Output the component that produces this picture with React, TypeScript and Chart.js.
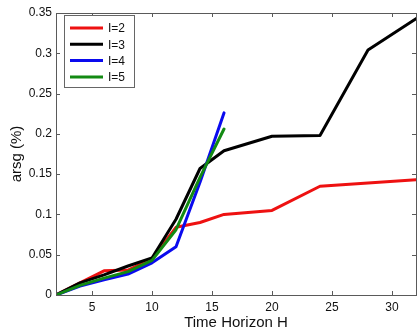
import React, { useEffect, useRef } from "react";
import { Chart, registerables } from "chart.js";

Chart.register(...registerables);

const xLong = [2, 4, 6, 8, 10, 12, 14, 16, 20, 24, 28, 32];
const xShort = [2, 4, 6, 8, 10, 12, 14, 16];
const seriesI2 = [0, 0.015, 0.03, 0.031, 0.045, 0.084, 0.09, 0.1, 0.105, 0.135, 0.139, 0.143];
const seriesI3 = [0, 0.015, 0.025, 0.036, 0.046, 0.094, 0.157, 0.179, 0.197, 0.198, 0.304, 0.343];
const seriesI4 = [0, 0.011, 0.019, 0.026, 0.04, 0.06, 0.14, 0.226];
const seriesI5 = [0, 0.012, 0.021, 0.029, 0.043, 0.081, 0.146, 0.206];
const seriesLabels = ["I=2", "I=3", "I=4", "I=5"];
const xTicks = [5, 10, 15, 20, 25, 30];
const yTicks = [0, 0.05, 0.1, 0.15, 0.2, 0.25, 0.3, 0.35];
const xTitle = "Time Horizon H";
const yTitle = "arsg (%)";

const FONT = '"Liberation Sans", Arial, Helvetica, sans-serif';
const AXIS_COLOR = "#5a5a5a";

const toPts = (xs: number[], ys: number[]) => ys.map((y, i) => ({ x: xs[i], y }));

const boxPlugin = {
  id: "matlabBox",
  afterDatasetsDraw(chart: any) {
    const { ctx, chartArea: a, scales } = chart;
    const xs = scales.x;
    const ys = scales.y;
    ctx.save();
    ctx.strokeStyle = AXIS_COLOR;
    ctx.lineWidth = 1;
    ctx.strokeRect(Math.round(a.left) + 0.5, Math.round(a.top) + 0.5, Math.round(a.right - a.left), Math.round(a.bottom - a.top));
    const tl = 4;
    ctx.beginPath();
    xTicks.forEach((v) => {
      const px = Math.round(xs.getPixelForValue(v)) + 0.5;
      ctx.moveTo(px, a.bottom);
      ctx.lineTo(px, a.bottom - tl);
      ctx.moveTo(px, a.top);
      ctx.lineTo(px, a.top + tl);
    });
    yTicks.forEach((v) => {
      const py = Math.round(ys.getPixelForValue(v)) + 0.5;
      ctx.moveTo(a.left, py);
      ctx.lineTo(a.left + tl, py);
      ctx.moveTo(a.right, py);
      ctx.lineTo(a.right - tl, py);
    });
    ctx.stroke();

    // legend
    const lx = a.left + 8;
    const ly = a.top + 2;
    const lw = 70;
    const lh = 72;
    ctx.fillStyle = "#ffffff";
    ctx.fillRect(lx, ly, lw, lh);
    ctx.strokeStyle = "#666";
    ctx.strokeRect(lx + 0.5, ly + 0.5, lw, lh);
    ctx.font = `12px ${FONT}`;
    ctx.textBaseline = "middle";
    ctx.textAlign = "left";
    const ds = chart.data.datasets;
    ds.forEach((d: any, i: number) => {
      const y = ly + 13 + i * 16.3;
      ctx.strokeStyle = d.borderColor;
      ctx.lineWidth = 3;
      ctx.beginPath();
      ctx.moveTo(lx + 6, y);
      ctx.lineTo(lx + 39, y);
      ctx.stroke();
      ctx.fillStyle = "#111";
      ctx.fillText(d.label, lx + 44, y + 1);
    });
    ctx.restore();
  },
};

export default function App() {
  const ref = useRef<HTMLCanvasElement | null>(null);
  useEffect(() => {
    if (!ref.current) return;
    const colors = ["#ee1111", "#000000", "#0a0aee", "#138a13"];
    const chart = new Chart(ref.current, {
      type: "line",
      data: {
        datasets: [
          { label: seriesLabels[0], data: toPts(xLong, seriesI2), borderColor: colors[0], order: 4 },
          { label: seriesLabels[1], data: toPts(xLong, seriesI3), borderColor: colors[1], order: 3 },
          { label: seriesLabels[2], data: toPts(xShort, seriesI4), borderColor: colors[2], order: 2 },
          { label: seriesLabels[3], data: toPts(xShort, seriesI5), borderColor: colors[3], order: 1 },
        ].map((d) => ({
          ...d,
          borderWidth: 3,
          pointRadius: 0,
          tension: 0,
          fill: false,
          borderJoinStyle: "round" as const,
          borderCapStyle: "round" as const,
        })),
      },
      options: {
        responsive: false,
        animation: false,
        events: [],
        layout: { padding: { top: 13, right: 3, left: 0, bottom: 0 } },
        plugins: { legend: { display: false }, tooltip: { enabled: false } },
        scales: {
          x: {
            type: "linear",
            min: 2,
            max: 32,
            grid: { display: false, drawTicks: false },
            border: { display: false },
            afterBuildTicks: (s: any) => {
              s.ticks = xTicks.map((v) => ({ value: v }));
            },
            afterFit: (s: any) => {
              s.height = 34;
            },
            ticks: {
              padding: 5,
              color: "#111",
              font: { family: FONT, size: 12 },
              callback: (v: any) => String(v),
            },
            title: {
              display: true,
              text: xTitle,
              color: "#111",
              font: { family: FONT, size: 15, lineHeight: 0.8 },
              padding: { top: 0, bottom: 0 },
            },
          },
          y: {
            type: "linear",
            min: 0,
            max: 0.35,
            grid: { display: false, drawTicks: false },
            border: { display: false },
            afterBuildTicks: (s: any) => {
              s.ticks = yTicks.map((v) => ({ value: v }));
            },
            afterFit: (s: any) => {
              s.width = 56;
            },
            ticks: {
              padding: 4,
              color: "#111",
              font: { family: FONT, size: 12 },
              callback: (v: any) => String(parseFloat(Number(v).toFixed(2))),
            },
            title: {
              display: true,
              text: yTitle,
              color: "#111",
              font: { family: FONT, size: 15, lineHeight: 1.2 },
              padding: { top: 8, bottom: 0 },
            },
          },
        },
      },
      plugins: [boxPlugin],
    });
    return () => chart.destroy();
  }, []);
  return (
    <div style={{ position: "fixed", left: 0, top: 0, width: 419, height: 329, background: "#fff" }}>
      <canvas ref={ref} width={419} height={329} style={{ display: "block" }} />
    </div>
  );
}
